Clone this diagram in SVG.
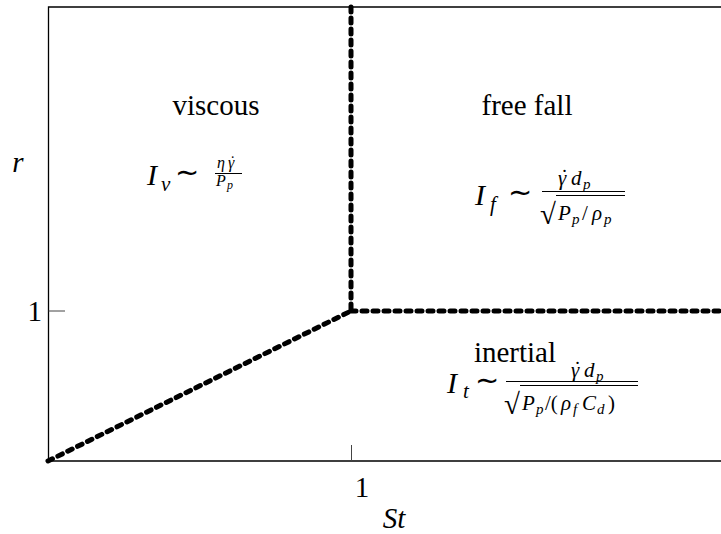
<svg xmlns="http://www.w3.org/2000/svg" width="721" height="534" viewBox="0 0 721 534">
<rect width="721" height="534" fill="#fff"/>
<g id="axes">
  <polyline points="721,7 48.5,7 48.5,461 721,461" stroke="#000" stroke-width="1.3" fill="none"/>
  <line x1="48.5" y1="311" x2="65" y2="311" stroke="#444" stroke-width="1"/>
  <line x1="351.5" y1="445" x2="351.5" y2="461" stroke="#444" stroke-width="1"/>
  <text style="font-family:'Liberation Serif',serif !important" x="42" y="321" font-size="29" text-anchor="end">1</text>
  <text style="font-family:'Liberation Serif',serif !important" x="362" y="497" font-size="29" text-anchor="middle">1</text>
  <text style="font-family:'Liberation Serif',serif !important" x="394" y="528" font-size="29" font-style="italic" text-anchor="middle">St</text>
  <text style="font-family:'Liberation Serif',serif !important" x="18" y="172" font-size="29" font-style="italic" text-anchor="middle">r</text>
</g>
<g id="connectors" stroke="#000" stroke-width="5" fill="none" stroke-dasharray="5 6" stroke-linecap="round">
  <line x1="48" y1="461" x2="351" y2="311"/>
  <line x1="351" y1="311" x2="721" y2="311"/>
  <line x1="351" y1="7" x2="351" y2="311"/>
</g>
<g id="viscous">
  <text style="font-family:'Liberation Serif',serif !important" x="216" y="115" font-size="29" text-anchor="middle">viscous</text>
  <text style="font-family:'Liberation Serif',serif !important" font-style="italic" x="147" y="185" font-size="30">I</text>
  <text style="font-family:'Liberation Serif',serif !important" font-style="italic" x="161" y="191" font-size="21">v</text>
  <text style="font-family:'Liberation Serif',serif !important" x="187" y="182" font-size="29" text-anchor="middle">∼</text>
  <text style="font-family:'Liberation Serif',serif !important" font-style="italic" x="217" y="168" font-size="16">η<tspan x="228">γ</tspan><tspan x="230" y="167" font-style="normal">˙</tspan></text>
  <line x1="215" y1="173.5" x2="242" y2="173.5" stroke="#000" stroke-width="1"/>
  <text style="font-family:'Liberation Serif',serif !important" font-style="italic" x="216" y="186" font-size="16">P<tspan x="227" y="189" font-size="12">p</tspan></text>
</g>
<g id="freefall">
  <text style="font-family:'Liberation Serif',serif !important" x="527" y="115" font-size="29" text-anchor="middle">free fall</text>
  <text style="font-family:'Liberation Serif',serif !important" font-style="italic" x="475" y="205" font-size="30">I</text>
  <text style="font-family:'Liberation Serif',serif !important" font-style="italic" x="490" y="211" font-size="21">f</text>
  <text style="font-family:'Liberation Serif',serif !important" x="520" y="202" font-size="29" text-anchor="middle">∼</text>
  <text style="font-family:'Liberation Serif',serif !important" font-style="italic" x="558" y="185" font-size="21">γ<tspan x="561" y="184" font-style="normal">˙</tspan><tspan x="571" y="185">d</tspan><tspan x="583" y="189" font-size="15">p</tspan></text>
  <line x1="542" y1="191.5" x2="625" y2="191.5" stroke="#000" stroke-width="1"/>
  <text style="font-family:'Liberation Serif',serif !important" x="540" y="224" font-size="29">√</text>
  <line x1="556" y1="195.5" x2="625" y2="195.5" stroke="#000" stroke-width="1"/>
  <text style="font-family:'Liberation Serif',serif !important" font-style="italic" x="558" y="220" font-size="21">P<tspan x="572" y="224" font-size="15">p</tspan><tspan x="582" y="220" font-style="normal">/</tspan><tspan x="592" y="220">ρ</tspan><tspan x="604" y="224" font-size="15">p</tspan></text>
</g>
<g id="inertial">
  <text style="font-family:'Liberation Serif',serif !important" x="515" y="362" font-size="29" text-anchor="middle">inertial</text>
  <text style="font-family:'Liberation Serif',serif !important" font-style="italic" x="447" y="393" font-size="30">I</text>
  <text style="font-family:'Liberation Serif',serif !important" font-style="italic" x="463" y="398" font-size="21">t</text>
  <text style="font-family:'Liberation Serif',serif !important" x="487" y="390" font-size="29" text-anchor="middle">∼</text>
  <text style="font-family:'Liberation Serif',serif !important" font-style="italic" x="571" y="377" font-size="21">γ<tspan x="574" y="376" font-style="normal">˙</tspan><tspan x="584" y="377">d</tspan><tspan x="596" y="381" font-size="15">p</tspan></text>
  <line x1="506" y1="381.5" x2="638" y2="381.5" stroke="#000" stroke-width="1"/>
  <text style="font-family:'Liberation Serif',serif !important" x="504" y="414" font-size="29">√</text>
  <line x1="520" y1="385.5" x2="638" y2="385.5" stroke="#000" stroke-width="1"/>
  <text style="font-family:'Liberation Serif',serif !important" font-style="italic" x="522" y="410" font-size="21">P<tspan x="536" y="414" font-size="15">p</tspan><tspan x="545" y="410" font-style="normal">/(</tspan><tspan x="561" y="410">ρ</tspan><tspan x="573" y="414" font-size="15">f</tspan><tspan x="582" y="410">C</tspan><tspan x="597" y="414" font-size="15">d</tspan><tspan x="608" y="410" font-style="normal">)</tspan></text>
</g>
</svg>
